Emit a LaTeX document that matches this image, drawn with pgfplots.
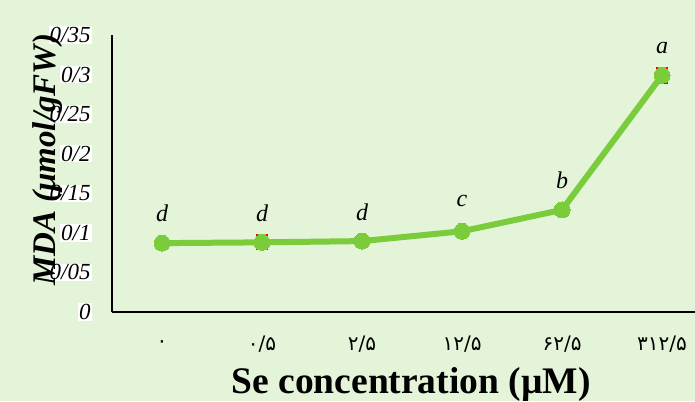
\documentclass[border=0pt]{standalone}
\usepackage{pgfplots}
\pgfplotsset{compat=1.18}
\usepackage{fontspec}
\setmainfont{Liberation Serif}
\newfontfamily\arabicfont[Script=Arabic]{DejaVu Sans}
\definecolor{bg}{RGB}{228,244,217}
\definecolor{lg}{RGB}{122,204,58}
\begin{document}
\begin{tikzpicture}[x=1pt,y=1pt]
\path[use as bounding box, fill=bg] (-56,-44.5) rectangle (291.5,156);
\begin{axis}[
  at={(0,0)}, anchor=south west,
  scale only axis, width=291.5pt, height=138.5pt,
  xmin=-0.5, xmax=5.33, ymin=0, ymax=0.35,
  axis x line*=bottom, axis y line*=left,
  axis line style={-, black, line width=1pt},
  major tick length=0pt,
  clip=false,
  xtick={0,1,2,3,4,5},
  xticklabels={۰, ۰/۵, ۲/۵, ۱۲/۵, ۶۲/۵, ۳۱۲/۵},
  xticklabel style={font=\arabicfont\fontsize{10}{12}\selectfont, anchor=center, yshift=-16pt},
  ytick={0,0.05,0.1,0.15,0.2,0.25,0.3,0.35},
  yticklabels={0,0/05,0/1,0/15,0/2,0/25,0/3,0/35},
  yticklabel style={font=\itshape\fontsize{11.5}{13}\selectfont, fill=white, inner sep=0.5pt, xshift=-10pt},
  xlabel={Se concentration (µM)},
  ylabel={MDA (μmol/gFW)},
  every axis x label/.style={at={(axis description cs:0.513,-0.262)}, anchor=center, font=\bfseries\fontsize{18.75}{22}\selectfont},
  every axis y label/.style={at={(axis description cs:-0.11,0.549)}, rotate=90, anchor=center, font=\bfseries\itshape\fontsize{16.5}{19}\selectfont},
]
\addplot[draw=none, forget plot, error bars/.cd, y dir=both, y explicit,
  error bar style={draw=red, line width=0.8pt, solid},
  error mark options={rotate=90, draw=red, mark size=3pt, line width=0.8pt}]
  coordinates {(1,0.088) +- (0,0.009) (5,0.299) +- (0,0.0095)};
\addplot[lg, line width=3pt, mark=*, mark size=4pt, mark options={fill=lg, draw=lg, line width=0pt}]
  coordinates {(0,0.087)(1,0.088)(2,0.0896)(3,0.102)(4,0.129)(5,0.299)};
\addplot[draw=none, nodes near coords, point meta=explicit symbolic, nodes near coords align=center,
  every node near coord/.append style={font=\itshape\fontsize{12}{14}\selectfont, text=black, anchor=center}]
  coordinates {(0,0.125)[d] (1,0.125)[d] (2,0.126)[d] (3,0.140)[c] (4,0.167)[b] (5,0.334)[a]};
\end{axis}
\end{tikzpicture}
\end{document}
